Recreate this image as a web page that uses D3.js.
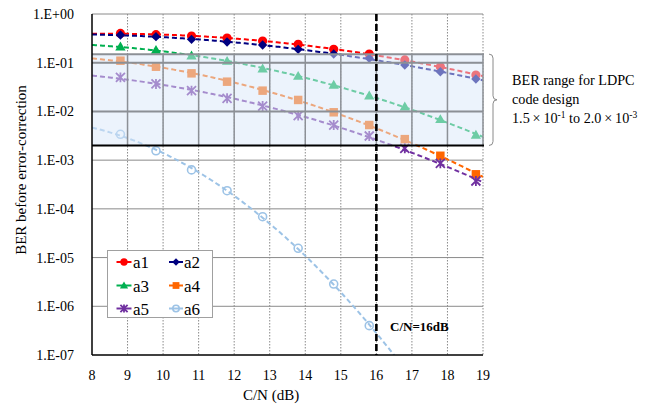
<!DOCTYPE html>
<html>
<head>
<meta charset="utf-8">
<script src="https://cdn.jsdelivr.net/npm/d3@7"></script>
<style>
  body { margin: 0; background: #fff; }
  svg { display: block; }
  text { font-family: 'Liberation Serif', 'DejaVu Serif', 'Times New Roman', serif; }
</style>
</head>
<body>
<svg id="chart" width="652" height="408"></svg>
<script>
// C/N values (dB) at which BER was measured
const cn = [8.8, 9.8, 10.8, 11.8, 12.8, 13.8, 14.8, 15.8, 16.8, 17.8, 18.8];

// BER before error correction for each configuration
const a1 = [0.40, 0.377, 0.353, 0.32, 0.279, 0.238, 0.188, 0.151, 0.114, 0.083, 0.056];
const a2 = [0.37, 0.343, 0.302, 0.266, 0.231, 0.188, 0.151, 0.123, 0.0898, 0.0654, 0.0463];
const a3 = [0.213, 0.182, 0.139, 0.108, 0.0754, 0.0533, 0.0349, 0.021, 0.0125, 0.0069, 0.00328];
const a4 = [0.110, 0.0828, 0.0605, 0.0408, 0.0267, 0.0172, 0.0096, 0.00526, 0.0027, 0.00123, 0.000512];
const a5 = [0.050, 0.0366, 0.0267, 0.0186, 0.0129, 0.0082, 0.00526, 0.00313, 0.00175, 0.00086, 0.000373];
const a6 = [0.00339, 0.00156, 0.00063, 0.000236, 6.9e-5, 1.55e-5, 2.86e-6, 4.0e-7];

const seriesNames = ["a1", "a2", "a3", "a4", "a5", "a6"];
const seriesValues = [a1, a2, a3, a4, a5, a6];

// Axis ticks
const xTicks = [8, 9, 10, 11, 12, 13, 14, 15, 16, 17, 18, 19];
const yTicks = [1, 1e-1, 1e-2, 1e-3, 1e-4, 1e-5, 1e-6, 1e-7];
const yTickLabels = ["1.E+00", "1.E-01", "1.E-02", "1.E-03", "1.E-04", "1.E-05", "1.E-06", "1.E-07"];

// Target BER range for LDPC code design, and the operating C/N
const bandRange = [1.5e-1, 2.0e-3];
const operatingCN = 16;

// ---- styling ----
const FONT = "'Liberation Serif', 'DejaVu Serif', 'Times New Roman', serif";
const colors = ["#ff0000", "#000080", "#00b050", "#ff6600", "#7030a0", "#9dc3e6"];
const shapes = ["circle", "diamond", "triangle", "square", "star", "ring"];

const svg = d3.select("#chart").attr("font-family", FONT);
const margin = { left: 92, right: 483, top: 14, bottom: 355 };

const x = d3.scaleLinear().domain([8, 19]).range([margin.left, margin.right]);
const y = d3.scaleLog().domain([1e-7, 1]).range([margin.bottom, margin.top]);

// clip region for the plot area
svg.append("defs").append("clipPath").attr("id", "plotClip")
  .append("rect")
  .attr("x", margin.left).attr("y", margin.top)
  .attr("width", margin.right - margin.left).attr("height", margin.bottom - margin.top);

// ---- gridlines ----
const grid = svg.append("g");
grid.selectAll("line.v").data(xTicks.slice(1)).join("line")
  .attr("x1", d => x(d)).attr("x2", d => x(d))
  .attr("y1", margin.top).attr("y2", margin.bottom)
  .attr("stroke", "#8a8a8a").attr("stroke-width", 1)
  .attr("stroke-dasharray", "1.5,1.5");
grid.selectAll("line.h").data(yTicks.slice(0, -1)).join("line")
  .attr("x1", margin.left).attr("x2", margin.right)
  .attr("y1", d => y(d)).attr("y2", d => y(d))
  .attr("stroke", "#8a8a8a").attr("stroke-width", 1);

// ---- quadratic least-squares trend in log10(BER) ----
function quadFit(xs, ys) {
  const S = [0, 0, 0, 0, 0], T = [0, 0, 0];
  xs.forEach((xv, i) => {
    const l = Math.log10(ys[i]);
    let p = 1;
    for (let k = 0; k < 5; k++) { S[k] += p; if (k < 3) T[k] += l * p; p *= xv; }
  });
  const A = [[S[0], S[1], S[2], T[0]], [S[1], S[2], S[3], T[1]], [S[2], S[3], S[4], T[2]]];
  for (let c = 0; c < 3; c++) {
    for (let r = c + 1; r < 3; r++) {
      const f = A[r][c] / A[c][c];
      for (let k = c; k < 4; k++) A[r][k] -= f * A[c][k];
    }
  }
  const b = [0, 0, 0];
  for (let r = 2; r >= 0; r--) {
    let s = A[r][3];
    for (let k = r + 1; k < 3; k++) s -= A[r][k] * b[k];
    b[r] = s / A[r][r];
  }
  return xv => Math.pow(10, b[0] + b[1] * xv + b[2] * xv * xv);
}

const sampleX = d3.range(8, 19.001, 0.05);
const lineGen = d3.line().x(d => x(d[0])).y(d => y(d[1]));

const trends = svg.append("g").attr("clip-path", "url(#plotClip)");
seriesValues.forEach((vals, i) => {
  const xs = cn.slice(0, vals.length);
  const f = quadFit(xs, vals);
  const pts = sampleX.map(xv => [xv, Math.max(f(xv), 1e-9)]);
  trends.append("path")
    .attr("d", lineGen(pts))
    .attr("fill", "none")
    .attr("stroke", colors[i])
    .attr("stroke-width", 2)
    .attr("stroke-dasharray", "5,3");
});

// ---- markers ----
function drawMarker(g, shape, color, cx, cy, s) {
  if (shape === "circle") {
    g.append("circle").attr("cx", cx).attr("cy", cy).attr("r", 4.6 * s).attr("fill", color);
  } else if (shape === "diamond") {
    g.append("path").attr("d", d3.symbol(d3.symbolSquare, 44 * s * s)())
      .attr("transform", `translate(${cx},${cy}) rotate(45)`).attr("fill", color);
  } else if (shape === "triangle") {
    g.append("path").attr("d", d3.symbol(d3.symbolTriangle, 46 * s * s)())
      .attr("transform", `translate(${cx},${cy + 0.8 * s})`).attr("fill", color);
  } else if (shape === "square") {
    g.append("path").attr("d", d3.symbol(d3.symbolSquare, 72 * s * s)())
      .attr("transform", `translate(${cx},${cy})`).attr("fill", color);
  } else if (shape === "star") {
    const r = 4.5 * s;
    const p = d3.path();
    p.moveTo(-r, -r); p.lineTo(r, r);
    p.moveTo(-r, r); p.lineTo(r, -r);
    p.moveTo(0, -r * 1.1); p.lineTo(0, r * 1.1);
    g.append("path").attr("d", p.toString())
      .attr("transform", `translate(${cx},${cy})`)
      .attr("stroke", color).attr("stroke-width", 1.8).attr("fill", "none");
  } else if (shape === "ring") {
    g.append("circle").attr("cx", cx).attr("cy", cy).attr("r", 4 * s)
      .attr("fill", "none").attr("stroke", color).attr("stroke-width", 1.6);
  }
}

const marks = svg.append("g").attr("clip-path", "url(#plotClip)");
seriesValues.forEach((vals, i) => {
  vals.forEach((v, j) => drawMarker(marks, shapes[i], colors[i], x(cn[j]), y(v), 1));
});

// ---- BER range band (translucent, drawn over the data) ----
const bandG = svg.append("g");
const yb0 = y(bandRange[0]), yb1 = y(bandRange[1]);
bandG.append("rect")
  .attr("x", margin.left).attr("y", yb0)
  .attr("width", margin.right - margin.left).attr("height", yb1 - yb0)
  .attr("fill", "rgb(218,232,250)").attr("fill-opacity", 0.5);
bandG.selectAll("line.bv").data(xTicks.slice(1)).join("line")
  .attr("x1", d => x(d)).attr("x2", d => x(d))
  .attr("y1", yb0).attr("y2", yb1)
  .attr("stroke", "#8c9096").attr("stroke-width", 1.5);
bandG.selectAll("line.bh").data(yTicks.filter(t => t < bandRange[0] && t > bandRange[1])).join("line")
  .attr("x1", margin.left).attr("x2", margin.right)
  .attr("y1", d => y(d)).attr("y2", d => y(d))
  .attr("stroke", "#8c9096").attr("stroke-width", 2);
bandG.append("line")
  .attr("x1", margin.left).attr("x2", margin.right + 1)
  .attr("y1", yb0).attr("y2", yb0)
  .attr("stroke", "#8c9096").attr("stroke-width", 2);
bandG.append("line")
  .attr("x1", margin.left).attr("x2", margin.right + 1)
  .attr("y1", yb1).attr("y2", yb1)
  .attr("stroke", "#000").attr("stroke-width", 1.8);

// ---- axes ----
svg.append("line")
  .attr("x1", margin.left).attr("x2", margin.left)
  .attr("y1", margin.top).attr("y2", margin.bottom)
  .attr("stroke", "#000").attr("stroke-width", 1.5);
svg.append("line")
  .attr("x1", margin.left).attr("x2", margin.right)
  .attr("y1", margin.bottom).attr("y2", margin.bottom)
  .attr("stroke", "#000").attr("stroke-width", 1.5);

svg.append("g").selectAll("text").data(yTicks).join("text")
  .attr("x", 74).attr("y", d => y(d) + 5)
  .attr("text-anchor", "end")
  .attr("font-size", 14).attr("fill", "#000")
  .text((d, i) => yTickLabels[i]);

svg.append("g").selectAll("text").data(xTicks).join("text")
  .attr("x", d => x(d)).attr("y", 380)
  .attr("text-anchor", "middle")
  .attr("font-size", 14).attr("fill", "#000")
  .text(d => d);

svg.append("text")
  .attr("x", 271).attr("y", 400)
  .attr("text-anchor", "middle").attr("font-size", 15)
  .text("C/N (dB)");

svg.append("text")
  .attr("transform", "translate(26,170) rotate(-90)")
  .attr("text-anchor", "middle").attr("font-size", 15)
  .text("BER before error-correction");

// ---- operating point marker ----
svg.append("line")
  .attr("x1", x(operatingCN)).attr("x2", x(operatingCN))
  .attr("y1", margin.top).attr("y2", margin.bottom)
  .attr("stroke", "#000").attr("stroke-width", 2.6)
  .attr("stroke-dasharray", "7,3");
svg.append("text")
  .attr("x", 390).attr("y", 331)
  .attr("font-size", 13).attr("font-weight", "bold")
  .text("C/N=16dB");

// ---- brace and annotation for the BER range ----
const bx = 493, bm = (yb0 + yb1) / 2;
const brace = d3.path();
brace.moveTo(bx - 4, yb0);
brace.quadraticCurveTo(bx, yb0, bx, yb0 + 4);
brace.lineTo(bx, bm - 4);
brace.quadraticCurveTo(bx, bm, bx + 4, bm);
brace.quadraticCurveTo(bx, bm, bx, bm + 4);
brace.lineTo(bx, yb1 - 4);
brace.quadraticCurveTo(bx, yb1, bx - 4, yb1);
svg.append("path").attr("d", brace.toString())
  .attr("fill", "none").attr("stroke", "#8a8a8a").attr("stroke-width", 1);

const note = svg.append("g").attr("font-size", 14.2).attr("fill", "#000");
note.append("text").attr("x", 512).attr("y", 85).text("BER range for LDPC");
note.append("text").attr("x", 512).attr("y", 104).text("code design");
const t3 = note.append("text").attr("x", 512).attr("y", 123);
t3.append("tspan").text("1.5\u2009\u00d7\u200910");
t3.append("tspan").attr("dy", -5).attr("font-size", 9.5).text("-1");
t3.append("tspan").attr("dy", 5).text(" to 2.0\u2009\u00d7\u200910");
t3.append("tspan").attr("dy", -5).attr("font-size", 9.5).text("-3");

// ---- legend ----
const leg = svg.append("g");
leg.append("rect")
  .attr("x", 107.5).attr("y", 250.5).attr("width", 105).attr("height", 67)
  .attr("fill", "#fff").attr("stroke", "#a0a0a0").attr("stroke-width", 1);
const legCols = [{ lx0: 116.5, lx1: 131.5, tx: 133 }, { lx0: 169, lx1: 183, tx: 184 }];
const legRows = [262, 285.5, 308.5];
seriesNames.forEach((name, i) => {
  const c = legCols[i % 2], r = legRows[Math.floor(i / 2)];
  leg.append("line")
    .attr("x1", c.lx0).attr("x2", c.lx1).attr("y1", r).attr("y2", r)
    .attr("stroke", colors[i]).attr("stroke-width", 2);
  drawMarker(leg, shapes[i], colors[i], (c.lx0 + c.lx1) / 2, r, 0.8);
  leg.append("text")
    .attr("x", c.tx).attr("y", r + 6)
    .attr("font-size", 17).text(name);
});
</script>
</body>
</html>
